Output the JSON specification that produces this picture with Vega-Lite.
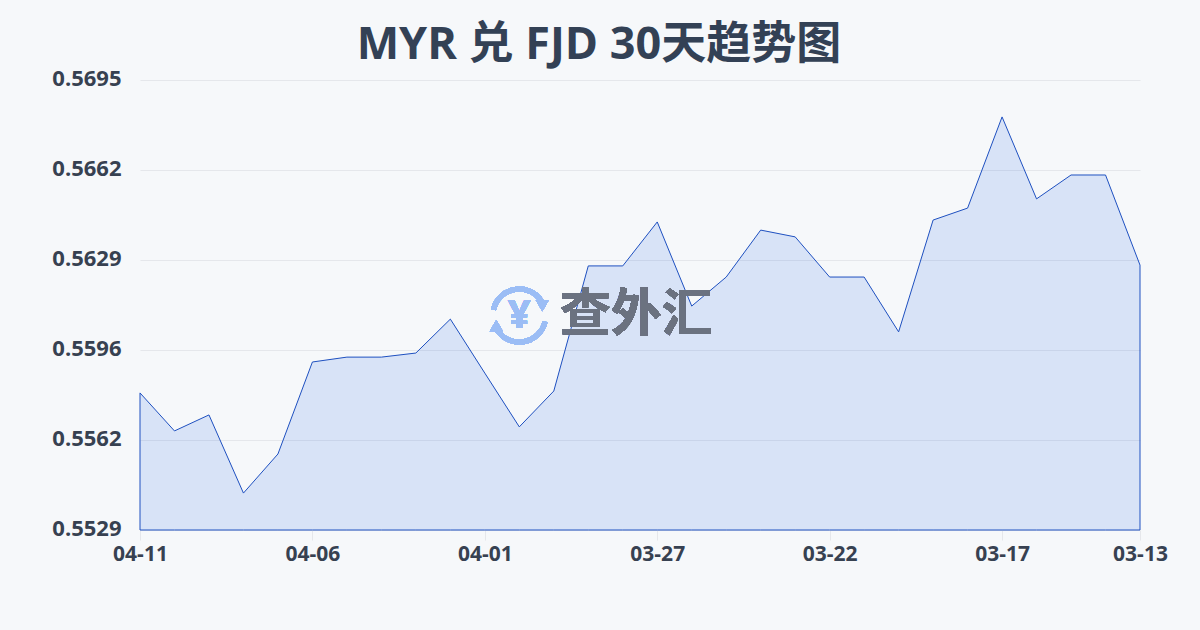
{"$schema":"https://vega.github.io/schema/vega-lite/v6.json","width":1000,"height":450,"autosize":"none","padding":{"left":140,"top":80,"right":60,"bottom":100},"background":"#f6f8fa","config":{"view":{"stroke":null},"font":"Open Sans"},"title":{"text":"MYR 兑 FJD 30天趋势图","font":"Open Sans, Noto Sans CJK SC","fontSize":45,"fontWeight":"bold","color":"#334155","anchor":"middle","offset":0,"dx":-41},"data":{"values":[{"date":"04-11","rate":0.55798},{"date":"04-10","rate":0.55658},{"date":"04-09","rate":0.55717},{"date":"04-08","rate":0.55429},{"date":"04-07","rate":0.55573},{"date":"04-06","rate":0.55912},{"date":"04-05","rate":0.5593},{"date":"04-04","rate":0.5593},{"date":"04-03","rate":0.55945},{"date":"04-02","rate":0.5607},{"date":"04-01","rate":0.55871},{"date":"03-31","rate":0.55673},{"date":"03-30","rate":0.55805},{"date":"03-29","rate":0.56266},{"date":"03-28","rate":0.56266},{"date":"03-27","rate":0.56428},{"date":"03-26","rate":0.56118},{"date":"03-25","rate":0.56225},{"date":"03-24","rate":0.56398},{"date":"03-23","rate":0.56373},{"date":"03-22","rate":0.56225},{"date":"03-21","rate":0.56225},{"date":"03-20","rate":0.56023},{"date":"03-19","rate":0.56435},{"date":"03-18","rate":0.56479},{"date":"03-17","rate":0.56815},{"date":"03-16","rate":0.56513},{"date":"03-15","rate":0.56601},{"date":"03-14","rate":0.56601},{"date":"03-13","rate":0.56269}]},"layer":[{"mark":{"type":"area","fill":"#2563eb","fillOpacity":0.14,"stroke":"#1e50c0","strokeWidth":1,"interpolate":"linear"},"encoding":{"x":{"field":"date","type":"ordinal","sort":null,"scale":{"type":"point","padding":0,"domain":["04-11","04-10","04-09","04-08","04-07","04-06","04-05","04-04","04-03","04-02","04-01","03-31","03-30","03-29","03-28","03-27","03-26","03-25","03-24","03-23","03-22","03-21","03-20","03-19","03-18","03-17","03-16","03-15","03-14","03-13"]},"axis":{"title":null,"labelExpr":"indexof(['04-11','04-06','04-01','03-27','03-22','03-17','03-13'],datum.label)>=0?datum.label:''","tickOpacity":{"condition":{"test":"indexof(['04-11','04-06','04-01','03-27','03-22','03-17','03-13'],datum.value)>=0","value":1},"value":0},"labelAngle":0,"labelOverlap":false,"labelBound":false,"labelFlush":false,"labelFont":"Open Sans","labelFontSize":21,"labelFontWeight":"bold","labelColor":"#374151","labelPadding":3,"tickColor":"#e5e7eb","tickSize":10,"domain":false,"grid":false}},"y":{"field":"rate","type":"quantitative","scale":{"domain":[0.55293,0.56951],"zero":false,"nice":false},"axis":{"title":null,"values":[0.55293,0.556246,0.559562,0.562878,0.566194,0.56951],"format":".4f","labelFont":"Open Sans","labelFontSize":22,"labelFontWeight":"bold","labelColor":"#374151","labelPadding":19,"labelOffset":-1.5,"ticks":false,"domain":false,"grid":true,"gridColor":"#e5e7eb","gridWidth":1}},"y2":{"datum":0.55293}}},{"mark":{"type":"arc","radius":29,"radius2":24,"theta":-1.35,"theta2":1.0,"fill":"#9bbdf5"},"encoding":{"x":{"datum":"03-31"},"y":{"datum":0.56083}}},{"mark":{"type":"arc","radius":29,"radius2":24,"theta":1.8,"theta2":4.15,"fill":"#9bbdf5"},"encoding":{"x":{"datum":"03-31"},"y":{"datum":0.56083}}},{"mark":{"type":"point","shape":"triangle-down","size":170,"filled":true,"opacity":1,"fill":"#9bbdf5","xOffset":23,"yOffset":-10},"encoding":{"x":{"datum":"03-31"},"y":{"datum":0.56083}}},{"mark":{"type":"point","shape":"triangle-up","size":170,"filled":true,"opacity":1,"fill":"#9bbdf5","xOffset":-23,"yOffset":10},"encoding":{"x":{"datum":"03-31"},"y":{"datum":0.56083}}},{"mark":{"type":"text","text":"¥","font":"Open Sans","fontSize":40,"fontWeight":"bold","color":"#9bbdf5","align":"center","baseline":"middle"},"encoding":{"x":{"datum":"03-31"},"y":{"datum":0.56083}}},{"mark":{"type":"text","text":"查外汇","font":"Noto Sans CJK SC","fontSize":51,"fontWeight":"bold","color":"#6b7280","opacity":0.85,"align":"left","baseline":"middle","dx":6},"encoding":{"x":{"datum":"03-30"},"y":{"datum":0.5608}}}]}
